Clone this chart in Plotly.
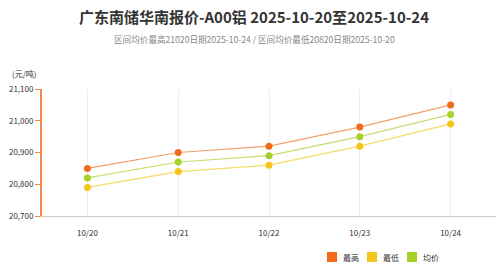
import plotly.graph_objects as go

dates = ["10/20", "10/21", "10/22", "10/23", "10/24"]
high = [20850, 20900, 20920, 20980, 21050]
low = [20790, 20840, 20860, 20920, 20990]
avg = [20820, 20870, 20890, 20950, 21020]
names = ["最高", "最低", "均价"]
colors = ["#f26b1d", "#f5c51b", "#a8d02a"]
line_colors = ["#f2a06a", "#f5dc6a", "#c3e070"]

font = "Noto Sans CJK SC"
W, H = 500, 263
L, R, T, B = 42, 4, 89, 47
pw, ph = W - L - R, H - T - B

def px(x):
    return (x - L) / pw

def py(y):
    return (H - B - y) / ph

fig = go.Figure()
for ys, n, c, lc in zip([high, low, avg], names, colors, line_colors):
    fig.add_trace(go.Scatter(x=dates, y=ys, mode="lines+markers", name=n,
                             line=dict(color=lc, width=1.2),
                             marker=dict(color=c, size=7), showlegend=False))

fig.update_layout(
    width=W, height=H,
    margin=dict(l=L, r=R, t=T, b=B),
    paper_bgcolor="white", plot_bgcolor="white",
    font=dict(family=font, size=8, color="#333"),
    showlegend=False,
    title=dict(text="<b>广东南储华南报价-A00铝 2025-10-20至2025-10-24</b>",
               x=254 / W, xanchor="center", y=1 - 18 / H, yanchor="middle",
               font=dict(size=15, color="#333", family=font)),
    xaxis=dict(type="category", range=[-0.5, 4.5], showgrid=True, gridcolor="#eeeeee",
               showline=True, linecolor="#cccccc", linewidth=1, ticks="",
               ticklabelstandoff=9,
               tickfont=dict(size=8, color="#333"), fixedrange=True),
    yaxis=dict(range=[20700, 21100], dtick=100, tickformat=",", showgrid=False,
               showline=True, linecolor="#f0894a", linewidth=2, ticks="outside",
               tickcolor="#f0894a", ticklen=5, tickwidth=1,
               tickfont=dict(size=8, color="#333"), zeroline=False),
)
fig.add_annotation(text="区间均价最高21020日期2025-10-24 / 区间均价最低20820日期2025-10-20",
                   xref="paper", yref="paper", x=px(254), y=py(39), showarrow=False,
                   font=dict(size=8.6, color="#888"), xanchor="center", yanchor="middle")
fig.add_annotation(text="(元/吨)", xref="paper", yref="paper", x=px(10), y=py(73),
                   showarrow=False, xanchor="left", yanchor="middle", font=dict(size=8, color="#333"))

legend_x = [332, 372, 412]
ly = 257
for lx, n, c in zip(legend_x, names, colors):
    fig.add_shape(type="rect", xref="paper", yref="paper",
                  x0=px(lx - 5), x1=px(lx + 5), y0=py(ly + 5), y1=py(ly - 5),
                  fillcolor=c, line=dict(width=0))
    fig.add_annotation(text=n, xref="paper", yref="paper", x=px(lx + 9), y=py(ly),
                       showarrow=False, xanchor="left", yanchor="middle",
                       font=dict(size=8, color="#333"))
fig.write_html("out.html")
